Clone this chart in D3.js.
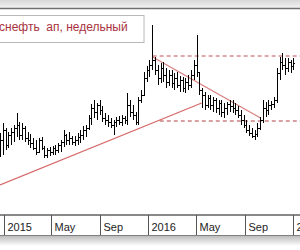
<!DOCTYPE html>
<html><head><meta charset="utf-8">
<script src="https://cdn.jsdelivr.net/npm/d3@7/dist/d3.min.js"></script>
<style>html,body{margin:0;padding:0;background:#fff;overflow:hidden}svg{display:block}</style>
</head><body>
<script>
// ---- data (weekly OHLC, price units) ----
const firstWeek = "2014-12-22";
const opens  = [245,255,265,250,260,263,267,270,260,267,257,255,252,247,243,255,247,240,245,243,247,245,250,253,260,255,257,253,255,258,260,265,267,277,287,283,290,285,277,275,273,270,273,275,273,277,275,290,283,280,273,295,300,317,325,330,335,325,317,327,320,313,320,312,317,310,315,307,313,310,320,330,323,305,300,290,297,290,295,287,292,283,287,291,289,287,285,280,275,270,265,262,259,261,267,275,287,285,290,291,295,322,333,330,327,333,329];
const highs  = [262,272,267,263,267,270,282,273,272,269,263,261,257,255,257,258,249,247,248,249,250,252,255,265,261,263,259,259,262,265,269,270,280,291,295,292,295,289,282,280,277,275,278,279,280,279,302,295,290,283,298,305,323,329,335,370,338,330,332,333,327,325,325,322,323,319,318,317,320,325,335,360,323,307,303,300,300,298,297,295,295,292,293,295,295,292,289,285,280,275,270,267,265,272,278,295,293,295,294,298,327,338,342,337,337,335,337];
const lows   = [238,240,245,247,250,253,258,255,255,253,250,247,245,240,243,245,237,237,239,240,240,242,243,248,250,250,250,249,250,252,255,258,265,270,277,275,280,273,270,268,267,260,268,270,269,271,270,278,275,270,270,292,300,313,318,325,320,310,312,313,307,309,307,305,307,303,303,302,305,307,315,318,300,287,285,287,285,283,282,280,278,277,280,283,282,280,277,270,267,262,259,257,255,258,265,272,278,280,285,287,292,315,325,320,323,322,325];
const closes = [255,265,250,260,263,267,270,260,267,257,255,252,247,243,255,247,240,245,243,247,245,250,253,260,255,257,253,255,258,260,265,267,277,287,283,290,285,277,275,273,270,273,275,273,277,275,290,283,280,273,295,300,317,325,330,335,325,317,327,320,313,320,312,317,310,315,307,313,310,320,330,323,305,300,290,297,290,295,287,292,283,287,291,289,287,285,280,275,270,265,262,259,261,267,275,287,285,290,291,295,322,333,330,327,333,329,332];
// trend lines [date, price]
const upTrend   = [["2014-12-22",210],["2016-05-15",292]];
const downTrend = [["2016-01-12",338],["2016-10-11",277]];
const resistance = [["2016-01-12",339],["2017-01-20",339]];
const support    = [["2016-01-30",274],["2017-01-20",274]];
const tickDates  = ["2015-01-01","2015-05-01","2015-09-01","2016-01-01","2016-05-01","2016-09-01","2017-01-01"];
const tickLabels = ["2015","May","Sep","2016","May","Sep","2017"];
const title = "снефть\u00a0 ап, недельный";

const W = 300, H = 250;
const parse = d3.utcParse("%Y-%m-%d");
const t0 = parse(firstWeek);
const bars = closes.map((c,i)=>({date:d3.utcDay.offset(t0, 7*i), o:opens[i], h:highs[i], l:lows[i], c}));

const x = d3.scaleUtc().domain([parse("2015-01-01"), parse("2017-01-01")]).range([4, 293]);
const y = d3.scaleLinear().domain([180, 386]).range([215, 9]);

const svg = d3.select("body").append("svg").attr("width",W).attr("height",H)
  .style("font-family","'DejaVu Sans', sans-serif");
const defs = svg.append("defs");
const gTop = defs.append("linearGradient").attr("id","gtop").attr("x1",0).attr("x2",0).attr("y1",0).attr("y2",1);
gTop.append("stop").attr("offset","0%").attr("stop-color","#d8d8d8");
gTop.append("stop").attr("offset","100%").attr("stop-color","#f2f2f2");
const gBot = defs.append("linearGradient").attr("id","gbot").attr("x1",0).attr("x2",0).attr("y1",0).attr("y2",1);
gBot.append("stop").attr("offset","0%").attr("stop-color","#bdbdbd");
gBot.append("stop").attr("offset","100%").attr("stop-color","#ffffff");

// top strip
svg.append("rect").attr("x",0).attr("y",0).attr("width",W).attr("height",8).attr("fill","url(#gtop)");
svg.append("line").attr("x1",0).attr("x2",W).attr("y1",8.5).attr("y2",8.5).attr("stroke","#707070").attr("stroke-width",1.5);

// title box
svg.append("rect").attr("x",-2).attr("y",15.5).attr("width",146).attr("height",27).attr("fill","#fff").attr("stroke","#b8b8b8");
svg.append("text").attr("x",-1).attr("y",30.5).attr("fill","#a8323e").attr("font-size",12)
  .attr("font-family","'Liberation Sans', Arial, sans-serif").text(title);

// lines (trend / levels)
const line = d3.line().x(d=>x(parse(d[0]))).y(d=>y(d[1]));
svg.append("path").attr("d",line(upTrend)).attr("stroke","#d86a6a").attr("stroke-width",1.3).attr("fill","none");
svg.append("path").attr("d",line(downTrend)).attr("stroke","#d88080").attr("stroke-width",1.3).attr("fill","none");
svg.append("path").attr("d",line(resistance)).attr("stroke","#c05050").attr("stroke-width",1).attr("stroke-dasharray","4,3").attr("fill","none");
svg.append("path").attr("d",line(support)).attr("stroke","#b04040").attr("stroke-width",1).attr("stroke-dasharray","4,3").attr("fill","none");

// OHLC bars
const g = svg.append("g").attr("stroke","#000").attr("stroke-width",1).attr("shape-rendering","crispEdges");
bars.forEach(b=>{
  const cx = Math.round(x(b.date)) + 0.5;
  g.append("line").attr("x1",cx).attr("x2",cx).attr("y1",y(b.h)).attr("y2",y(b.l));
  g.append("line").attr("x1",cx-1.5).attr("x2",cx).attr("y1",Math.round(y(b.o))+0.5).attr("y2",Math.round(y(b.o))+0.5);
  g.append("line").attr("x1",cx).attr("x2",cx+1.5).attr("y1",Math.round(y(b.c))+0.5).attr("y2",Math.round(y(b.c))+0.5);
});

// time axis band
svg.append("rect").attr("x",0).attr("y",215).attr("width",W).attr("height",20).attr("fill","#fff");
svg.append("rect").attr("x",0).attr("y",236).attr("width",W).attr("height",10).attr("fill","url(#gbot)");
svg.append("line").attr("x1",0).attr("x2",W).attr("y1",215).attr("y2",215).attr("stroke","#606060").attr("stroke-width",1.5);
svg.append("line").attr("x1",0).attr("x2",W).attr("y1",235.5).attr("y2",235.5).attr("stroke","#808080").attr("stroke-width",1);
const ax = svg.append("g");
tickDates.forEach((d,i)=>{
  const tx = Math.round(x(parse(d))) + 0.5;
  ax.append("line").attr("x1",tx).attr("x2",tx).attr("y1",215).attr("y2",235).attr("stroke","#555");
  ax.append("text").attr("x",tx+3).attr("y",231).attr("font-size",11).attr("fill","#222")
    .attr("font-family","'Liberation Sans', Arial, sans-serif").text(tickLabels[i]);
});
</script>
</body></html>
